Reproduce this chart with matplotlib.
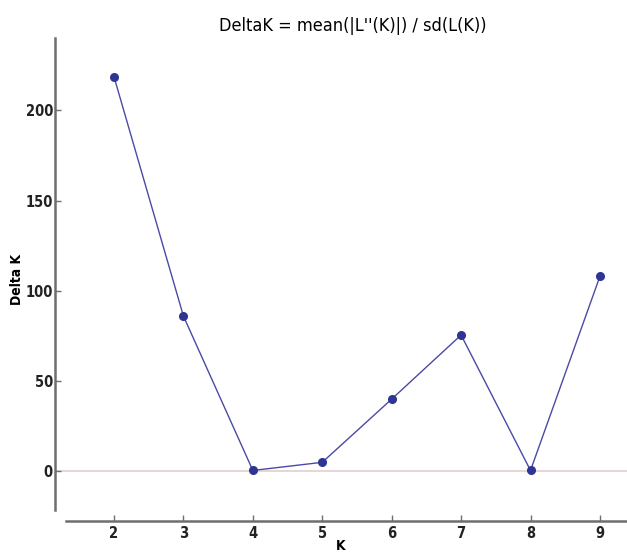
import matplotlib.pyplot as plt

k_values = [2, 3, 4, 5, 6, 7, 8, 9]
delta_k = [218.5, 86, 0.5, 5, 40, 75.5, 0.5, 108]
x_ticks = [2, 3, 4, 5, 6, 7, 8, 9]
y_ticks = [0, 50, 100, 150, 200]

W, H = 627, 555
fig = plt.figure(figsize=(W / 100, H / 100), dpi=100)
# axes box in pixels: left 55, right 627, top 38, bottom 521
ax = fig.add_axes([55 / W, 1 - 521 / H, (627 - 55) / W, (521 - 38) / H])

ax.axhline(0, color='#e6d6d6', linewidth=1.5, zorder=1)
ax.plot(k_values, delta_k, color='#4a4aa6', linewidth=1.0,
        marker='o', markersize=5.5, markerfacecolor='#2e3592',
        markeredgecolor='#2e3592', zorder=3)

ax.set_xlim(1.15, 9.39)
ax.set_ylim(-27.5, 240)
ax.set_xticks(x_ticks)
ax.set_yticks(y_ticks)

for side in ['top', 'right']:
    ax.spines[side].set_visible(False)
ax.spines['left'].set_bounds(-21.6, 240)
ax.spines['bottom'].set_bounds(1.31, 9.39)
for side in ['left', 'bottom']:
    ax.spines[side].set_color('#6e6e6e')
    ax.spines[side].set_linewidth(1.8)

ax.tick_params(direction='in', length=4, width=1, color='#6e6e6e',
               labelsize=10.5)
ax.tick_params(axis='y', pad=1.5)
ax.tick_params(axis='x', pad=3.5)
for lab in ax.get_xticklabels() + ax.get_yticklabels():
    lab.set_fontweight('bold')
    lab.set_fontstretch('condensed')
    lab.set_color('#222222')

ax.set_xlabel('K', fontsize=10, fontweight='bold', fontstretch='condensed',
              labelpad=-1.5)
ax.set_ylabel('Delta K', fontsize=10, fontweight='bold',
              fontstretch='condensed', labelpad=1)
ax.set_title("DeltaK = mean(|L''(K)|) / sd(L(K))", fontsize=13,
             fontstretch='condensed', pad=5, x=0.52)

fig.savefig('out.png', dpi=100)
